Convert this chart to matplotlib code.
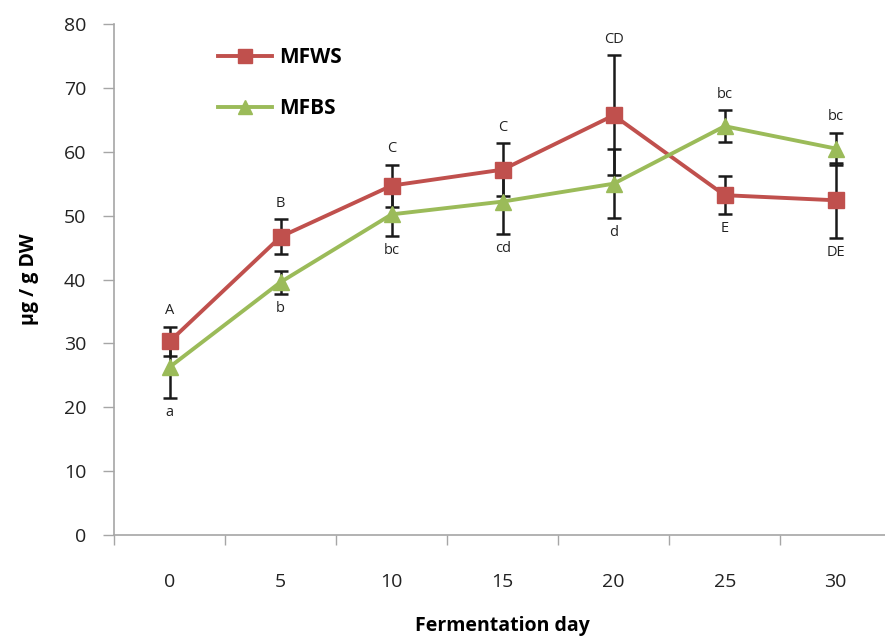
import numpy as np
import matplotlib.pyplot as plt

plt.rcParams['font.family'] = ['Open Sans', 'DejaVu Sans']

days = ['0', '5', '10', '15', '20', '25', '30']

mfws = [30.3, 46.7, 54.7, 57.2, 65.7, 53.2, 52.4]
mfws_err = [2.3, 2.7, 3.3, 4.1, 9.4, 3.0, 5.9]
mfws_letters = ['A', 'B', 'C', 'C', 'CD', 'E', 'DE']

mfbs = [26.3, 39.6, 50.2, 52.2, 55.0, 64.0, 60.5]
mfbs_err = [4.9, 1.8, 3.4, 5.1, 5.4, 2.5, 2.5]
mfbs_letters = ['a', 'b', 'bc', 'cd', 'd', 'bc', 'bc']

red = '#C0504D'
green = '#9BBB59'
axis_gray = '#A6A6A6'

fig = plt.figure(figsize=(8.85, 6.38), dpi=100)
ax = fig.add_axes([0.129, 0.1614, 0.878, 0.801])

x = np.arange(len(days))

ax.errorbar(x, mfws, yerr=mfws_err, fmt='none', ecolor='#1a1a1a',
            elinewidth=1.8, capsize=5, capthick=1.8, zorder=2)
ax.errorbar(x, mfbs, yerr=mfbs_err, fmt='none', ecolor='#1a1a1a',
            elinewidth=1.8, capsize=5, capthick=1.8, zorder=2)
ax.plot(x, mfws, color=red, lw=2.8, marker='s', ms=12,
        label='MFWS', zorder=3)
ax.plot(x, mfbs, color=green, lw=2.8, marker='^', ms=12,
        label='MFBS', zorder=3)

# significance letters: above the upper series, below the lower one
for i in range(len(days)):
    if mfws[i] >= mfbs[i]:
        top_val, top_err, top_txt = mfws[i], mfws_err[i], mfws_letters[i]
        bot_val, bot_err, bot_txt = mfbs[i], mfbs_err[i], mfbs_letters[i]
    else:
        top_val, top_err, top_txt = mfbs[i], mfbs_err[i], mfbs_letters[i]
        bot_val, bot_err, bot_txt = mfws[i], mfws_err[i], mfws_letters[i]
    ax.annotate(top_txt, (x[i], top_val + top_err), xytext=(0, 6),
                textcoords='offset points', ha='center', va='bottom',
                fontsize=10.5, color='#222222')
    ax.annotate(bot_txt, (x[i], bot_val - bot_err), xytext=(0, -5),
                textcoords='offset points', ha='center', va='top',
                fontsize=10.5, color='#222222')

ax.set_xlim(-0.5, len(days) - 0.5)
ax.set_ylim(0, 80)
ax.set_yticks(np.arange(0, 81, 10))
ax.set_xticks(x)
ax.set_xticklabels(days)
ax.set_xticks(np.arange(-0.5, len(days), 1), minor=True)

ax.tick_params(axis='x', which='major', length=0, pad=27, labelsize=14,
               labelcolor='#222222')
ax.tick_params(axis='x', which='minor', length=7, width=1, color=axis_gray,
               direction='out')
ax.tick_params(axis='y', length=8, width=1, color=axis_gray, pad=12,
               labelsize=14, labelcolor='#222222')

for side in ['top', 'right']:
    ax.spines[side].set_visible(False)
for side in ['left', 'bottom']:
    ax.spines[side].set_color(axis_gray)
    ax.spines[side].set_linewidth(1.2)

ax.set_xlabel('Fermentation day', fontsize=14, fontweight='bold', labelpad=18)
ax.set_ylabel('μg / g DW', fontsize=14, fontweight='bold', labelpad=18)

ax.legend(loc='upper left', bbox_to_anchor=(0.134, 0.955), frameon=False,
          borderpad=0, borderaxespad=0,
          prop={'size': 15, 'weight': 'bold'}, handlelength=2.6,
          handletextpad=0.3, labelspacing=1.45, markerscale=0.85)

fig.savefig('out.png', dpi=100)
